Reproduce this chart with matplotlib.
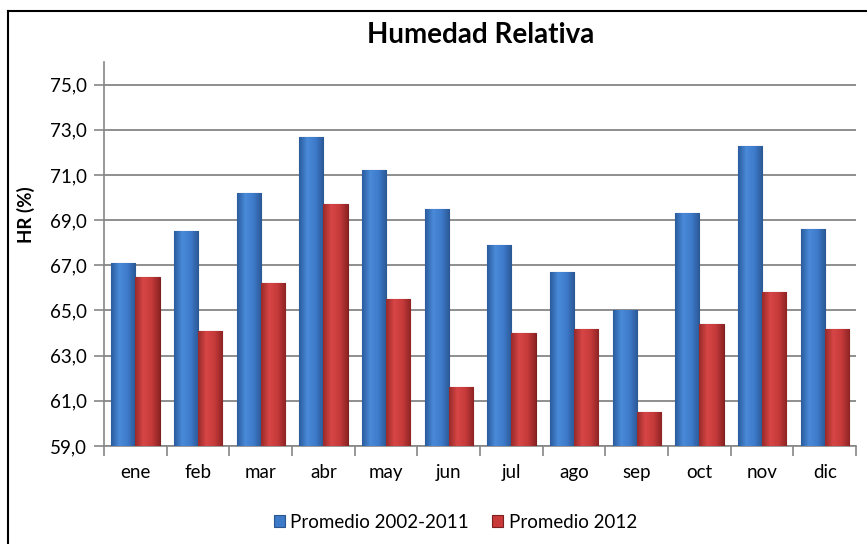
import numpy as np
import matplotlib
matplotlib.use('Agg')
import matplotlib.pyplot as plt
from matplotlib.lines import Line2D
from matplotlib.colors import LinearSegmentedColormap

plt.rcParams['font.family'] = ['Lato', 'DejaVu Sans']

# datos
meses = ['ene', 'feb', 'mar', 'abr', 'may', 'jun', 'jul', 'ago', 'sep', 'oct', 'nov', 'dic']
prom_2002_2011 = [67.1, 68.5, 70.2, 72.7, 71.2, 69.5, 67.9, 66.7, 65.0, 69.3, 72.3, 68.6]
prom_2012 = [66.5, 64.1, 66.2, 69.7, 65.5, 61.6, 64.0, 64.2, 60.5, 64.4, 65.8, 64.2]
yticks = [59, 61, 63, 65, 67, 69, 71, 73, 75]

azul = '#3D7AC9'
rojo = '#C93A3A'
cm_azul = LinearSegmentedColormap.from_list('az', ['#2A5C9E', '#4A8AD8', '#3E7ACB', '#2B5894'])
cm_rojo = LinearSegmentedColormap.from_list('ro', ['#992A2A', '#D84646', '#C63A3A', '#8E2424'])

fig = plt.figure(figsize=(8.67, 5.44), dpi=100)
ax = fig.add_axes([0.1200, 0.1801, 0.8674, 0.7059])

x = np.arange(len(meses))
w = 0.385
b1 = ax.bar(x - w/2, np.array(prom_2002_2011) - 59, w, bottom=59, color=azul,
            edgecolor='#2A558F', linewidth=0.8, zorder=3, label='Promedio 2002-2011')
b2 = ax.bar(x + w/2, np.array(prom_2012) - 59, w, bottom=59, color=rojo,
            edgecolor='#7E2020', linewidth=0.8, zorder=3, label='Promedio 2012')

# degradado horizontal en cada barra
grad = np.linspace(0, 1, 64).reshape(1, -1)
for bars, cm in ((b1, cm_azul), (b2, cm_rojo)):
    for r in bars:
        im = ax.imshow(grad, cmap=cm, aspect='auto', zorder=3.5,
                       extent=[r.get_x(), r.get_x() + r.get_width(), r.get_y(), r.get_y() + r.get_height()])
        im.set_clip_path(r)

ax.set_xlim(-0.5, len(meses) - 0.5)
ax.set_ylim(59, 76)
ax.set_yticks(yticks)
ax.set_yticklabels([('%.1f' % v).replace('.', ',') for v in yticks])
ax.set_xticks(x)
ax.set_xticklabels(meses)
ax.set_xticks(np.arange(-0.5, len(meses), 1), minor=True)
ax.tick_params(axis='x', which='major', length=0, pad=13, labelsize=13.5)
ax.tick_params(axis='x', which='minor', length=7, color='#868686', width=1.2)
ax.tick_params(axis='y', length=7, color='#868686', width=1.2, pad=5, labelsize=13.5)

ax.grid(axis='y', color='#868686', linewidth=1.3, zorder=0)
ax.set_axisbelow(True)
for s in ['top', 'right']:
    ax.spines[s].set_visible(False)
ax.spines['left'].set_color('#868686')
ax.spines['bottom'].set_color('#868686')
ax.spines['left'].set_linewidth(1.2)
ax.spines['bottom'].set_linewidth(1.2)

fig.text(0.030, 0.605, 'HR (%)', rotation=90, ha='center', va='center',
         fontsize=13.5, fontweight='bold')
fig.text(0.554, 0.936, 'Humedad Relativa', ha='center', va='center',
         fontsize=20, fontweight='bold')

fig.legend(handles=[b1, b2], loc='center', bbox_to_anchor=(0.525, 0.04), ncol=2,
           frameon=False, fontsize=13.5, handlelength=0.6, handleheight=0.6,
           handletextpad=0.3, columnspacing=1.2)

# marco del grafico
fig.add_artist(Line2D([8/867, 8/867], [0, 1 - 10.7/544], color='black', lw=1.5))
fig.add_artist(Line2D([8/867, 1], [1 - 10.7/544, 1 - 10.7/544], color='black', lw=1.5))

fig.savefig('out.png', dpi=100)
